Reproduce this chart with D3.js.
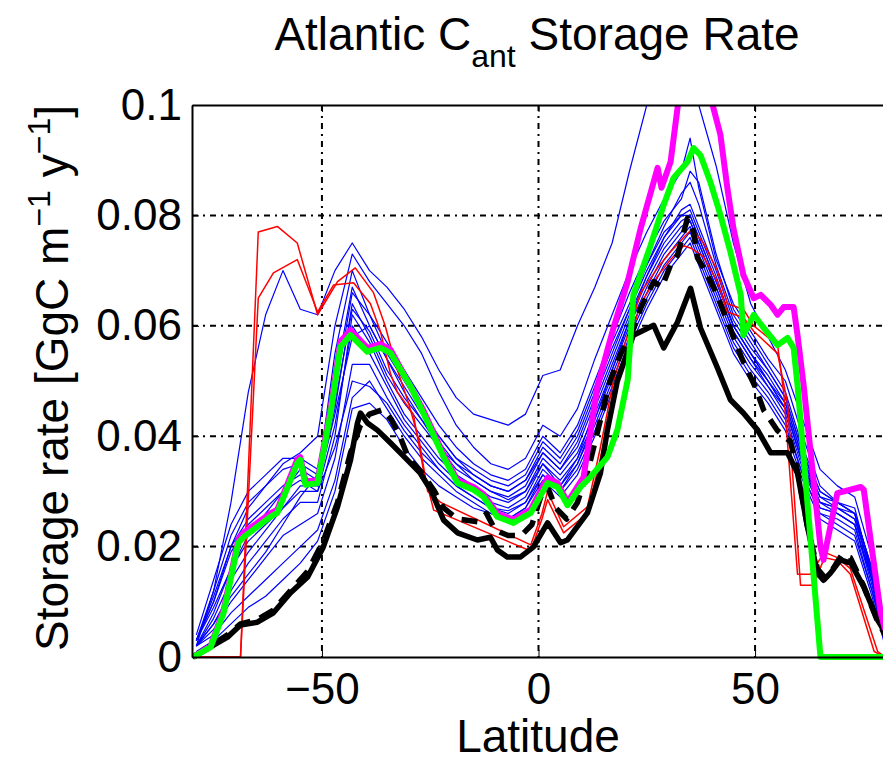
<!DOCTYPE html>
<head>
  <meta charset="utf-8">
  <script src="https://d3js.org/d3.v7.min.js"></script>
  <style>
    body { margin:0; background:#fff; }
    text { font-family: "Liberation Sans", Arial, Helvetica, sans-serif; fill:#000; }
  </style>
</head>

<body>
<script>
  // latitude grid shared by the thin blue model runs
  const blueLat = [-79,-75,-71,-67,-63,-59,-55,-51,-47,-43,-39,-35,-31,
                   -27,-23,-19,-15,-11,-7,-3,1,5,9,13,
                   17,21,25,29,33,35,37,41,45,49,53,57,61,65,69,73,77,80];

  const blue01 = [0.002,0.012,0.028,0.048,0.062,0.070,0.063,0.062,0.070,0.075,0.070,0.067,0.063,
                  0.058,0.052,0.047,0.044,0.043,0.042,0.044,0.051,0.052,0.060,0.067,
                  0.075,0.088,0.100,0.112,0.116,0.112,0.100,0.089,0.075,0.064,0.058,0.052,0.043,0.034,0.031,0.029,0.018,0.006];
  const blue02 = [0.003,0.010,0.020,0.027,0.031,0.035,0.037,0.040,0.060,0.073,0.068,0.064,0.060,
                  0.055,0.048,0.042,0.038,0.035,0.034,0.036,0.042,0.040,0.045,0.054,
                  0.062,0.070,0.077,0.083,0.088,0.094,0.085,0.072,0.064,0.059,0.054,0.050,0.040,0.031,0.028,0.027,0.015,0.004];
  const blue03 = [0.002,0.008,0.016,0.022,0.026,0.030,0.034,0.032,0.055,0.070,0.062,0.057,0.052,
                  0.047,0.042,0.038,0.035,0.033,0.032,0.034,0.040,0.037,0.042,0.050,
                  0.058,0.066,0.073,0.079,0.083,0.088,0.086,0.073,0.063,0.058,0.053,0.048,0.038,0.030,0.028,0.026,0.014,0.003];
  const blue04 = [0.004,0.014,0.024,0.030,0.033,0.036,0.036,0.034,0.050,0.067,0.060,0.054,0.049,
                  0.044,0.040,0.036,0.033,0.031,0.030,0.032,0.038,0.035,0.040,0.048,
                  0.056,0.063,0.070,0.076,0.081,0.082,0.078,0.070,0.061,0.056,0.052,0.047,0.037,0.029,0.027,0.026,0.016,0.005];
  const blue05 = [0.003,0.011,0.020,0.025,0.028,0.031,0.033,0.031,0.045,0.064,0.058,0.051,0.046,
                  0.042,0.038,0.035,0.032,0.030,0.029,0.031,0.037,0.034,0.038,0.046,
                  0.054,0.062,0.069,0.075,0.079,0.080,0.076,0.068,0.060,0.055,0.050,0.046,0.036,0.028,0.027,0.025,0.015,0.004];
  const blue06 = [0.002,0.006,0.012,0.017,0.021,0.025,0.028,0.028,0.040,0.062,0.057,0.050,0.044,
                  0.040,0.036,0.033,0.031,0.029,0.028,0.030,0.036,0.033,0.037,0.044,
                  0.052,0.060,0.067,0.073,0.077,0.079,0.075,0.067,0.059,0.054,0.049,0.045,0.035,0.028,0.026,0.024,0.013,0.003];
  const blue07 = [0.003,0.009,0.016,0.021,0.024,0.027,0.030,0.030,0.042,0.060,0.055,0.049,0.043,
                  0.039,0.035,0.032,0.030,0.028,0.027,0.029,0.035,0.032,0.036,0.043,
                  0.051,0.059,0.066,0.072,0.076,0.078,0.074,0.066,0.058,0.053,0.049,0.044,0.034,0.027,0.026,0.024,0.014,0.004];
  const blue08 = [0.002,0.005,0.010,0.014,0.018,0.022,0.024,0.026,0.036,0.053,0.053,0.047,0.042,
                  0.038,0.034,0.031,0.029,0.027,0.026,0.028,0.034,0.031,0.035,0.042,
                  0.050,0.058,0.065,0.071,0.075,0.077,0.073,0.065,0.057,0.052,0.048,0.043,0.033,0.026,0.025,0.023,0.012,0.003];
  const blue09 = [0.002,0.004,0.008,0.011,0.014,0.017,0.020,0.023,0.032,0.047,0.050,0.045,0.040,
                  0.036,0.033,0.030,0.028,0.026,0.025,0.027,0.033,0.030,0.034,0.041,
                  0.049,0.057,0.064,0.070,0.074,0.076,0.072,0.064,0.056,0.051,0.047,0.042,0.033,0.026,0.024,0.022,0.012,0.003];
  const blue10 = [0.001,0.003,0.006,0.009,0.011,0.014,0.017,0.021,0.030,0.045,0.046,0.043,0.038,
                  0.034,0.031,0.029,0.027,0.026,0.025,0.027,0.032,0.029,0.033,0.040,
                  0.048,0.056,0.063,0.069,0.073,0.075,0.071,0.063,0.055,0.050,0.046,0.041,0.032,0.025,0.023,0.021,0.011,0.002];
  const blue11 = [0.002,0.006,0.011,0.015,0.019,0.024,0.029,0.033,0.048,0.066,0.062,0.055,0.050,
                  0.045,0.040,0.036,0.034,0.032,0.031,0.033,0.039,0.036,0.041,0.049,
                  0.057,0.064,0.071,0.077,0.080,0.081,0.077,0.069,0.060,0.055,0.051,0.046,0.036,0.029,0.028,0.026,0.016,0.005];
  const blue12 = [0.003,0.012,0.022,0.028,0.031,0.034,0.035,0.033,0.046,0.063,0.059,0.052,0.047,
                  0.043,0.039,0.035,0.033,0.031,0.030,0.032,0.037,0.034,0.039,0.047,
                  0.055,0.063,0.071,0.078,0.084,0.086,0.082,0.071,0.062,0.057,0.052,0.047,0.037,0.030,0.028,0.026,0.016,0.004];
  const blue13 = [0.002,0.007,0.014,0.019,0.023,0.027,0.031,0.031,0.044,0.058,0.060,0.054,0.048,
                  0.043,0.038,0.034,0.032,0.030,0.0285,0.030,0.035,0.031,0.036,0.045,
                  0.053,0.061,0.068,0.074,0.078,0.079,0.075,0.067,0.059,0.054,0.050,0.045,0.035,0.027,0.026,0.024,0.014,0.004];
  const blue14 = [0.003,0.010,0.019,0.024,0.027,0.030,0.032,0.030,0.038,0.050,0.049,0.046,0.041,
                  0.037,0.034,0.031,0.029,0.027,0.0265,0.028,0.033,0.030,0.035,0.043,
                  0.052,0.061,0.069,0.076,0.080,0.080,0.076,0.068,0.060,0.055,0.050,0.045,0.035,0.028,0.027,0.025,0.015,0.004];
  const blueRuns = [blue01,blue02,blue03,blue04,blue05,blue06,blue07,blue08,blue09,blue10,blue11,blue12,blue13,blue14];

  // [latitude, storage rate] pairs
  const redA = [[-80,0],[-68.8,0],[-64.7,0.077],[-60.3,0.078],[-55.7,0.075],[-51,0.062],[-46.4,0.068],[-42.3,0.0705],
    [-38.1,0.066],[-35.4,0.060],[-33,0.053],[-30,0.046],[-27.5,0.039],[-25.6,0.030],[-22.6,0.028],[-1.8,0.0203],
    [0.8,0.026],[2.1,0.030],[5.8,0.0236],[11.3,0.0272],[14.3,0.038],[17.3,0.050],[23.6,0.066],[27.5,0.0705],
    [30.5,0.0734],[33.5,0.076],[35.4,0.0775],[38.1,0.075],[41.3,0.070],[43.6,0.064],[47.3,0.063],[49.7,0.060],
    [55.2,0.0565],[56.6,0.048],[59.8,0.015],[62.8,0.015],[66,0.019],[69,0.018],[72,0.016],[78.3,0.001],[80,0]];
  const redB = [[-80,0],[-68.8,0],[-64.7,0.065],[-61.2,0.0696],[-55.7,0.072],[-51,0.0625],[-47.3,0.0674],[-42.7,0.0678],
    [-38.8,0.064],[-36.5,0.059],[-34.2,0.0514],[-32.6,0.048],[-28.9,0.044],[-26.6,0.034],[-24.2,0.0266],[-1.8,0.0192],
    [0.8,0.025],[2.1,0.0285],[5.8,0.0225],[11.3,0.026],[14.3,0.036],[17.3,0.048],[23.6,0.064],[27.5,0.069],
    [30.5,0.072],[33.5,0.0745],[35.4,0.074],[38.1,0.0725],[41.3,0.068],[43.6,0.0625],[47.3,0.0615],[49.7,0.059],
    [55.2,0.055],[57.5,0.046],[60.5,0.013],[63.5,0.013],[66,0.018],[69,0.0175],[72,0.015],[77.5,0.001],[80,0]];

  const obsSolid = [[-79.9,0],[-75.8,0.0018],[-71.8,0.0036],[-68.8,0.0058],[-64.9,0.0063],[-61.2,0.008],[-57.3,0.0116],
    [-53.3,0.0145],[-49.7,0.0199],[-46.4,0.0272],[-43.4,0.0357],[-41.8,0.0424],[-41.1,0.0442],[-39.5,0.0424],
    [-37.2,0.0411],[-34.2,0.0388],[-30.3,0.0357],[-27.3,0.0333],[-24.9,0.0303],[-21.9,0.0248],[-18.7,0.0225],
    [-14.1,0.0212],[-11.1,0.0217],[-9.5,0.0194],[-7.2,0.0181],[-4.2,0.0181],[-1.2,0.0199],[2.1,0.0243],[5.1,0.0207],
    [6.7,0.0212],[11.3,0.0261],[14.3,0.0333],[15.9,0.0411],[18.2,0.050],[21.9,0.0583],[26.6,0.0601],[28.9,0.056],
    [32.1,0.0607],[35.1,0.0668],[37.4,0.0596],[41.3,0.0524],[44.3,0.0466],[47.3,0.0442],[50.6,0.0411],[53.6,0.037],
    [57.5,0.037],[59.8,0.0333],[62.1,0.0236],[64.4,0.0152],[65.8,0.0139],[67.4,0.0152],[69.7,0.0176],[72.1,0.017],
    [75.1,0.0127],[78.3,0.0067],[80,0.0045]];
  const obsDashed = [[-79.7,0],[-75.8,0.002],[-71.8,0.004],[-68.8,0.006],[-64.9,0.0068],[-61.2,0.0085],[-57.3,0.012],
    [-53.3,0.0155],[-49.7,0.021],[-46.4,0.028],[-43.4,0.037],[-41.1,0.042],[-39,0.044],[-36,0.0448],[-34,0.043],
    [-32,0.040],[-30,0.036],[-27,0.0335],[-24,0.030],[-21.9,0.027],[-18.7,0.025],[-14,0.0245],[-12,0.026],[-10,0.023],
    [-7,0.022],[-4,0.022],[-1.5,0.024],[0.5,0.029],[2,0.031],[4,0.027],[6.5,0.025],[9,0.028],[11.5,0.034],[14,0.042],
    [16.5,0.050],[19,0.055],[22,0.0596],[23.6,0.0632],[26.6,0.068],[28.5,0.067],[30.5,0.071],[32.1,0.0728],
    [34.4,0.0795],[35.8,0.077],[36.7,0.0723],[38.1,0.0705],[41,0.066],[44,0.060],[47,0.054],[50,0.049],[52,0.0447],
    [55.2,0.041],[58.2,0.039],[60,0.033],[62,0.024],[64.4,0.016],[66,0.0145],[68,0.016],[70,0.0185],[72,0.018],
    [75,0.013],[78,0.007],[80,0.004]];

  const magenta = [[-79.7,0],[-75.7,0.002],[-72.7,0.0085],[-69.3,0.0213],[-68.1,0.0225],[-61.9,0.026],[-60.3,0.0267],
    [-55.7,0.0358],[-55,0.0362],[-53.8,0.0318],[-51,0.032],[-48,0.045],[-45.7,0.0572],[-43.4,0.0592],[-39.5,0.056],
    [-36.5,0.0567],[-34.2,0.0557],[-26.6,0.0447],[-21.9,0.0367],[-18.7,0.032],[-15,0.0308],[-12.7,0.0295],
    [-9.5,0.026],[-5.8,0.0249],[-1.8,0.0267],[2.1,0.0325],[4.4,0.0315],[6.7,0.028],[10.4,0.0326],[13.6,0.049],
    [17.3,0.0596],[20.6,0.068],[23.6,0.0777],[27.5,0.0886],[28.4,0.085],[30.5,0.0897],[32.1,0.0995],[35,0.112],
    [38,0.110],[40.2,0.100],[42,0.0946],[43.6,0.085],[45,0.0777],[47.3,0.0692],[49.7,0.065],[51.3,0.0656],
    [53.6,0.0638],[55.2,0.062],[56.6,0.0634],[58.9,0.0634],[59.8,0.0583],[61.2,0.0493],[65.1,0.020],[65.8,0.0176],
    [69,0.0297],[74.4,0.0308],[75.1,0.0303],[79,0.008],[80,0.005]];
  const green = [[-79.7,0],[-75.7,0.0018],[-72.7,0.008],[-69.3,0.0207],[-68.1,0.0217],[-61.9,0.0254],[-60.3,0.0261],
    [-55.7,0.0351],[-55,0.0357],[-53.8,0.0312],[-51,0.0315],[-48,0.0442],[-45.7,0.0562],[-43.4,0.0583],[-39.5,0.0553],
    [-36.5,0.056],[-34.2,0.0551],[-29.5,0.049],[-26.6,0.0442],[-21.9,0.0362],[-18.7,0.0315],[-15,0.0303],
    [-12.7,0.029],[-9.5,0.0254],[-5.8,0.0243],[-1.8,0.0261],[2.1,0.0315],[4.4,0.0308],[6.7,0.0275],[9.7,0.0308],
    [12,0.0326],[15.9,0.0362],[18.2,0.0411],[20.6,0.0502],[21.9,0.0656],[25.9,0.0746],[28.9,0.0819],[31.2,0.0868],
    [34.4,0.0897],[35.8,0.0922],[37.4,0.0909],[39.7,0.086],[42,0.0801],[44.3,0.0734],[46.7,0.0656],[47.3,0.0583],
    [49.7,0.062],[52,0.0596],[55.2,0.0565],[57.5,0.0578],[58.9,0.056],[59.8,0.0493],[65.1,0],[80,0]];

  const xTicks = [-50, 0, 50];
  const yTicks = [0, 0.02, 0.04, 0.06, 0.08, 0.1];
  const yTickLabels = ["0", "0.02", "0.04", "0.06", "0.08", "0.1"];

  var width = 883, height = 761;
  var plot = {left: 192, right: 885, top: 105, bottom: 657};

  var svg = d3.select("body").append("svg")
    .attr("width", width)
    .attr("height", height);

  const x = d3.scaleLinear().domain([-80, 80]).range([plot.left, plot.right]);
  const y = d3.scaleLinear().domain([0, 0.1]).range([plot.bottom, plot.top]);

  svg.append("defs").append("clipPath").attr("id", "clip")
    .append("rect")
    .attr("x", plot.left).attr("y", plot.top)
    .attr("width", plot.right - plot.left).attr("height", plot.bottom - plot.top + 12);

  // grid lines (matlab style dotted grid)
  var grid = svg.append("g").attr("stroke", "#000").attr("stroke-width", 2)
    .attr("stroke-dasharray", "6,5,2,5");
  grid.selectAll(".gx").data(xTicks).enter().append("line")
    .attr("x1", d => x(d)).attr("x2", d => x(d))
    .attr("y1", plot.top).attr("y2", plot.bottom);
  grid.selectAll(".gy").data(yTicks.slice(1, -1)).enter().append("line")
    .attr("y1", d => y(d)).attr("y2", d => y(d))
    .attr("x1", plot.left).attr("x2", plot.right);

  var lines = svg.append("g").attr("clip-path", "url(#clip)")
    .attr("fill", "none").attr("stroke-linejoin", "round");

  var pairLine = d3.line().x(d => x(d[0])).y(d => y(d[1]));
  var blueLine = d3.line().x((d, i) => x(blueLat[i])).y(d => y(d));

  lines.selectAll(".blue").data(blueRuns).enter().append("path")
    .attr("d", blueLine)
    .attr("stroke", "#0000ff").attr("stroke-width", 1.2);

  lines.selectAll(".red").data([redA, redB]).enter().append("path")
    .attr("d", pairLine)
    .attr("stroke", "#ff0000").attr("stroke-width", 1.5);

  lines.append("path").attr("d", pairLine(obsSolid))
    .attr("stroke", "#000").attr("stroke-width", 5.5);
  lines.append("path").attr("d", pairLine(obsDashed))
    .attr("stroke", "#000").attr("stroke-width", 5.5)
    .attr("stroke-dasharray", "16,10");
  lines.append("path").attr("d", pairLine(magenta))
    .attr("stroke", "#ff00ff").attr("stroke-width", 6);
  lines.append("path").attr("d", pairLine(green))
    .attr("stroke", "#00ff00").attr("stroke-width", 6);

  // axes box
  svg.append("g")
    .attr("transform", "translate(0," + plot.bottom + ")")
    .call(d3.axisBottom(x).tickValues(xTicks).tickSize(-7).tickSizeOuter(0).tickPadding(16)
      .tickFormat(d => d < 0 ? "\u2212" + Math.abs(d) : d))
    .call(g => g.select(".domain").attr("stroke-width", 2))
    .call(g => g.selectAll("text").attr("font-size", 44));

  svg.append("g")
    .attr("transform", "translate(" + plot.left + ",0)")
    .call(d3.axisLeft(y).tickValues(yTicks).tickSize(-7).tickSizeOuter(0).tickPadding(10)
      .tickFormat((d, i) => yTickLabels[i]))
    .call(g => g.select(".domain").attr("stroke-width", 2))
    .call(g => g.selectAll("text").attr("font-size", 44));

  svg.append("g")
    .attr("transform", "translate(0," + plot.top + ")")
    .call(d3.axisTop(x).tickValues(xTicks).tickSize(-7).tickSizeOuter(0).tickFormat(""))
    .call(g => g.select(".domain").attr("stroke-width", 2.2));

  svg.selectAll(".domain, .tick line").attr("stroke", "#000");

  // title
  var title = svg.append("text")
    .attr("x", 537).attr("y", 50)
    .attr("text-anchor", "middle").attr("font-size", 46);
  title.append("tspan").text("Atlantic C");
  title.append("tspan").attr("font-size", 32).attr("dy", 17).text("ant");
  title.append("tspan").attr("dy", -17).text(" Storage Rate");

  // axis labels
  svg.append("text")
    .attr("x", 538).attr("y", 752)
    .attr("text-anchor", "middle").attr("font-size", 46)
    .text("Latitude");

  var ylab = svg.append("text")
    .attr("transform", "translate(68,378) rotate(-90)")
    .attr("text-anchor", "middle").attr("font-size", 46);
  ylab.append("tspan").text("Storage rate [GgC m");
  ylab.append("tspan").attr("font-size", 32).attr("dy", -18).text("\u22121");
  ylab.append("tspan").attr("dy", 18).text(" y");
  ylab.append("tspan").attr("font-size", 32).attr("dy", -18).text("\u22121");
  ylab.append("tspan").attr("dy", 18).text("]");
</script>
</body>
